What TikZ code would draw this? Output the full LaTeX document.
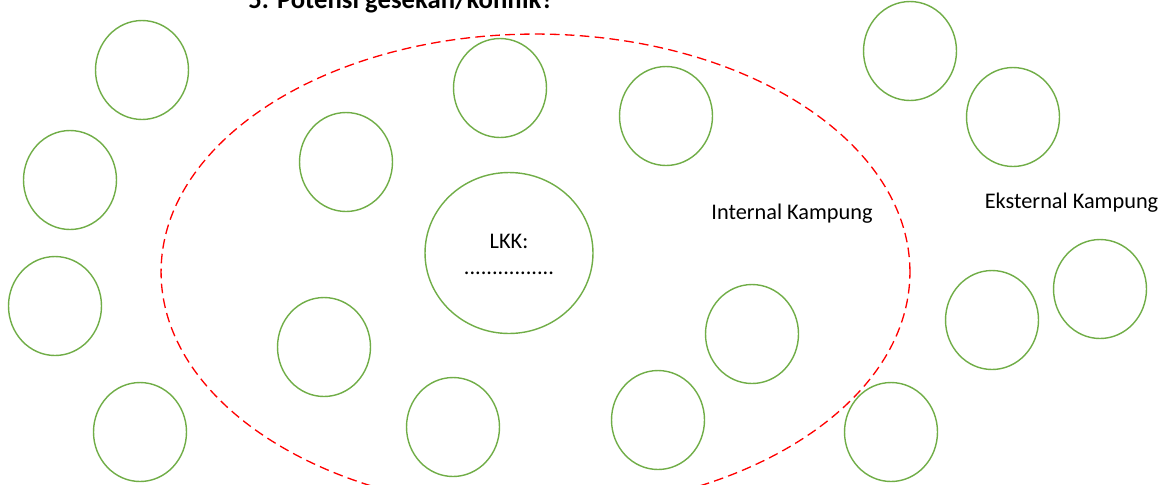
\documentclass[tikz,border=0pt]{standalone}
\usepackage{fontspec}
\setmainfont{Carlito}
\usetikzlibrary{shapes.geometric}
\definecolor{lingkar}{RGB}{112,173,71}
\definecolor{garis}{RGB}{255,0,0}
\tikzstyle{kelompok}=[draw=lingkar,ellipse,line width=0.8pt,inner sep=0pt,minimum width=1.86cm,minimum height=1.98cm]
\tikzstyle{batas}=[draw=garis,line width=0.75pt,dash pattern=on 5.5pt off 3pt]
\tikzstyle{teks}=[font=\fontsize{12.7}{14.5}\selectfont,inner sep=0pt]

\begin{document}
\begin{tikzpicture}[x=0.02cm,y=-0.02cm]
	\clip (0,0) rectangle (1169,484);
	% judul (terpotong di atas)
	\node[anchor=base west,inner sep=0pt,font=\fontsize{15.2}{17}\selectfont\bfseries] (judul) at (248,8) {5. Potensi gesekan/konflik?};
	% batas internal kampung
	\draw[batas] (535.5,272) ellipse [x radius=7.49cm, y radius=4.76cm];
	\foreach \nama/\x/\y in {k1/142/70, k2/70/180, k3/55/306, k4/140/432, k5/346/162, k6/500/88, k7/666/116, k8/324/347, k9/453/427, k10/658/420, k11/752/334, k12/891/432, k13/910/51, k14/1013/117, k15/1100/289, k16/992/320} {
		\node[kelompok] (\nama) at (\x,\y) {};
	}
	\node[kelompok,minimum width=3.36cm,minimum height=3.22cm] (lkk) at (509,253) {};
	\node[teks,anchor=base] (lkknama) at (509,248) {LKK:};
	\node[teks,anchor=base] (lkkisi) at (509,274) {................};
	\node[teks,anchor=base] (internal) at (792,219) {Internal Kampung};
	\node[teks,anchor=base] (eksternal) at (1071.5,208) {Eksternal Kampung};
\end{tikzpicture}
\end{document}
